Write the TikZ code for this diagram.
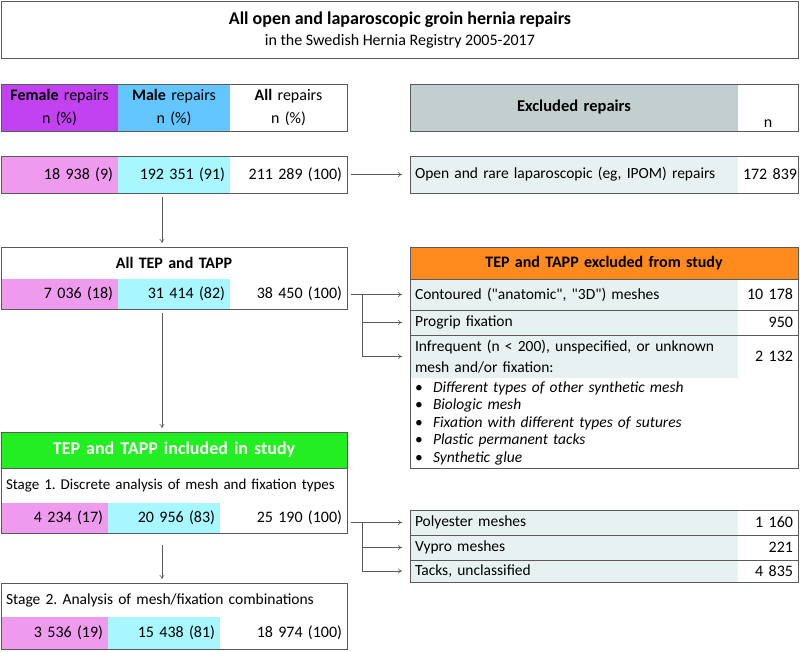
\documentclass[tikz,border=0pt]{standalone}
\usepackage{fontspec}
\setmainfont{Carlito}
\newfontfamily\plainq{Carlito}[Ligatures=TeXOff]
\usetikzlibrary{positioning, arrows.meta}
\definecolor{femhead}{HTML}{C242F2}
\definecolor{femdata}{HTML}{EE9BEE}
\definecolor{malehead}{HTML}{64C6FF}
\definecolor{maledata}{HTML}{A8F7FF}
\definecolor{exgray}{HTML}{C3CFCF}
\definecolor{rowtint}{HTML}{E8F1F1}
\definecolor{exorange}{HTML}{FF8A1E}
\definecolor{ingreen}{HTML}{22EE22}
\definecolor{framegray}{HTML}{5A5A5A}
\newcommand{\fs}{\fontsize{15.5}{18}\selectfont}
\newcommand{\ns}{\fontsize{16}{18}\selectfont}
\newcommand{\hs}{\fontsize{16}{23}\selectfont}
\newcommand{\bs}{\fontsize{16}{18}\selectfont\bfseries}
\newcommand{\dq}{{\plainq"}}
\frenchspacing

\begin{document}
\begin{tikzpicture}[x=1pt, y=-1pt,
  cell/.style={anchor=north west, inner xsep=5pt, inner ysep=0pt, outer sep=0pt, font=\fs},
  num/.style={cell, align=right, font=\ns},
  txt/.style={cell, align=left},
  mid/.style={cell, align=center},
  frame/.style={draw=framegray, line width=0.9pt},
  rule/.style={draw=framegray, line width=0.6pt},
  arr/.style={-{To[length=4pt,width=5pt]}, draw=framegray, line width=0.6pt, shorten <=4pt, shorten >=8pt}]
  \useasboundingbox (0,0) rectangle (800,651);

  % title
  \node[frame, anchor=north west, inner sep=0pt, minimum width=797pt, minimum height=57pt, align=center] (title) at (1,1)
    {{\fontsize{18}{20}\selectfont\bfseries All open and laparoscopic groin hernia repairs}\\[6pt]
     {\fontsize{16}{18}\selectfont in the Swedish Hernia Registry 2005-2017}};

  % column heads
  \node[mid, fill=femhead, text width=107pt, minimum height=47pt, font=\hs] (hfem) at (1,84) {\textbf{Female} repairs\\n (\%)};
  \node[mid, fill=malehead, text width=102pt, minimum height=47pt, font=\hs] (hmale) at (118,84) {\textbf{Male} repairs\\n (\%)};
  \node[mid, text width=107pt, minimum height=47pt, font=\hs] (hall) at (230,84) {\textbf{All} repairs\\n (\%)};
  \draw[frame] (hfem.north west) rectangle (hall.south east);

  \node[mid, fill=exgray, text width=318pt, minimum height=47pt, font={\fontsize{16.5}{18}\selectfont\bfseries}] (exhead) at (410,84) {Excluded repairs};
  \node[mid, text width=50pt, minimum height=47pt, font=\hs] (exn) at (738,84) {\strut\\n};
  \draw[frame] (exhead.north west) rectangle (exn.south east);

  % all repairs
  \node[num, fill=femdata, text width=107pt, minimum height=37pt] (fem1) at (1,156) {18~938 (9)};
  \node[num, fill=maledata, text width=102pt, minimum height=37pt] (male1) at (118,156) {192~351 (91)};
  \node[num, text width=107pt, minimum height=37pt] (all1) at (230,156) {211~289 (100)};
  \draw[frame] (fem1.north west) rectangle (all1.south east);

  \node[txt, fill=rowtint, text width=318pt, minimum height=37pt] (exopen) at (410,156) {Open and rare laparoscopic (eg, IPOM) repairs};
  \node[num, text width=50pt, minimum height=37pt] (exopenn) at (738,156) {172~839};
  \draw[frame] (exopen.north west) rectangle (exopenn.south east);

  % all TEP and TAPP
  \node[mid, text width=336pt, minimum height=32pt, font=\bs] (tephead) at (1,247) {All TEP and TAPP};
  \node[num, fill=femdata, text width=107pt, minimum height=30pt] (fem2) at (1,279) {7~036 (18)};
  \node[num, fill=maledata, text width=102pt, minimum height=30pt] (male2) at (118,279) {31~414 (82)};
  \node[num, text width=107pt, minimum height=30pt] (all2) at (230,279) {38~450 (100)};
  \draw[frame] (tephead.north west) rectangle (all2.south east);

  % excluded from study
  \node[mid, fill=exorange, text width=378pt, minimum height=32pt, font=\bs] (exstudy) at (410,247) {TEP and TAPP excluded from study};
  \node[txt, fill=rowtint, text width=318pt, minimum height=31pt] (contour) at (410,279) {Contoured (\dq anatomic\dq, \dq 3D\dq) meshes};
  \node[num, text width=50pt, minimum height=31pt] (contourn) at (738,279) {10~178};
  \node[txt, fill=rowtint, text width=318pt, minimum height=25pt] (progrip) at (410,310) {Progrip fixation};
  \node[num, text width=50pt, minimum height=25pt] (progripn) at (738,310) {950};
  \node[txt, fill=rowtint, text width=318pt, minimum height=43pt, font={\fontsize{15.5}{21}\selectfont}] (infreq) at (410,335)
    {Infrequent (n < 200), unspecified, or unknown\\mesh and/or fixation:};
  \node[num, text width=50pt, minimum height=43pt] (infreqn) at (738,335) {2~132};
  \node[txt, text width=378pt, minimum height=90pt, font={\fontsize{15.5}{17.5}\selectfont\itshape}] (bullets) at (410,378)
    {\makebox[18pt][l]{\upshape\textbullet}Different types of other synthetic mesh\\
     \makebox[18pt][l]{\upshape\textbullet}Biologic mesh\\
     \makebox[18pt][l]{\upshape\textbullet}Fixation with different types of sutures\\
     \makebox[18pt][l]{\upshape\textbullet}Plastic permanent tacks\\
     \makebox[18pt][l]{\upshape\textbullet}Synthetic glue};
  \draw[rule] (contour.north west) -- (contourn.north east);
  \draw[rule] (progrip.north west) -- (progripn.north east);
  \draw[rule] (infreq.north west) -- (infreqn.north east);
  \draw[frame] (exstudy.north west) rectangle (bullets.south east);

  % included in study
  \node[mid, fill=ingreen, text width=336pt, minimum height=36pt, font={\fontsize{18}{20}\selectfont\bfseries}, text=white] (inhead) at (1,432) {TEP and TAPP included in study};
  \node[txt, text width=336pt, minimum height=35pt, font={\fontsize{15}{18}\selectfont}] (stage1) at (1,468) {Stage 1. Discrete analysis of mesh and fixation types};
  \node[num, fill=femdata, text width=97pt, minimum height=30pt] (fem3) at (1,503) {4~234 (17)};
  \node[num, fill=maledata, text width=102pt, minimum height=30pt] (male3) at (108,503) {20~956 (83)};
  \node[num, text width=117pt, minimum height=30pt] (all3) at (220,503) {25~190 (100)};
  \draw[rule] (inhead.south west) -- (inhead.south east);
  \draw[frame] (inhead.north west) rectangle (all3.south east);

  \node[txt, fill=rowtint, text width=318pt, minimum height=25pt] (poly) at (410,510) {Polyester meshes};
  \node[num, text width=50pt, minimum height=25pt] (polyn) at (738,510) {1~160};
  \node[txt, fill=rowtint, text width=318pt, minimum height=25pt] (vypro) at (410,535) {Vypro meshes};
  \node[num, text width=50pt, minimum height=25pt] (vypron) at (738,535) {221};
  \node[txt, fill=rowtint, text width=318pt, minimum height=22pt] (tacks) at (410,560) {Tacks, unclassified};
  \node[num, text width=50pt, minimum height=22pt] (tacksn) at (738,560) {4~835};
  \draw[rule] (vypro.north west) -- (vypron.north east);
  \draw[rule] (tacks.north west) -- (tacksn.north east);
  \draw[frame] (poly.north west) rectangle (tacksn.south east);

  % stage 2
  \node[txt, text width=336pt, minimum height=34pt] (stage2) at (1,583) {Stage 2. Analysis of mesh/fixation combinations};
  \node[num, fill=femdata, text width=97pt, minimum height=32pt] (fem4) at (1,617) {3~536 (19)};
  \node[num, fill=maledata, text width=102pt, minimum height=32pt] (male4) at (108,617) {15~438 (81)};
  \node[num, text width=117pt, minimum height=32pt] (all4) at (220,617) {18~974 (100)};
  \draw[frame] (stage2.north west) rectangle (all4.south east);

  % connectors
  \coordinate (stem) at (162,0);
  \coordinate (fork) at (362,0);
  \draw[arr] (all1.east) -- (exopen.west);
  \draw[arr, shorten >=4pt] (male1.south -| stem) -- (tephead.north -| stem);
  \draw[arr] (contour.west -| all2.east) -- (contour.west);
  \draw[arr, shorten <=0pt] (contour.west -| fork) |- (progrip.west);
  \draw[arr, shorten <=0pt] (contour.west -| fork) |- (infreq.west);
  \draw[arr, shorten >=4pt] (male2.south -| stem) -- (inhead.north -| stem);
  \draw[arr] (poly.west -| all3.east) -- (poly.west);
  \draw[arr, shorten <=0pt] (poly.west -| fork) |- (vypro.west);
  \draw[arr, shorten <=0pt] (poly.west -| fork) |- (tacks.west);
  \draw[arr, shorten <=12pt, shorten >=4pt] (male3.south -| stem) -- (stage2.north -| stem);
\end{tikzpicture}
\end{document}
